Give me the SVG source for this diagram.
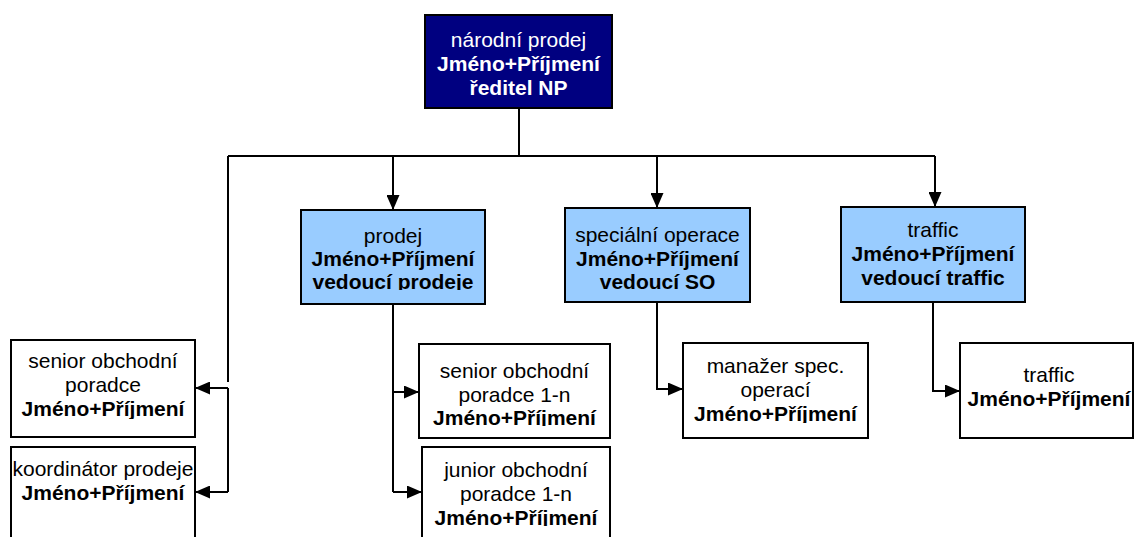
<svg xmlns="http://www.w3.org/2000/svg" width="1134" height="537" viewBox="0 0 1134 537">
<defs>
<style>
text{font-family:"Liberation Sans",Arial,sans-serif;font-size:21px;text-anchor:middle;fill:#000}
.b{font-weight:bold}
.w{fill:#fff}
.box{fill:#fff;stroke:#000;stroke-width:2}
.blue{fill:#99ccff;stroke:#000;stroke-width:2}
.top{fill:#000080;stroke:#000;stroke-width:2}
.c{fill:none;stroke:#000;stroke-width:2}
</style>
<marker id="ah" markerUnits="userSpaceOnUse" markerWidth="15" markerHeight="13" refX="15" refY="6.5" orient="auto">
<path d="M0,0 L15,6.5 L0,13 z" fill="#000"/>
</marker>
<clipPath id="cp1"><rect x="300" y="209" width="186" height="81"/></clipPath>
<clipPath id="cp2"><rect x="10" y="339" width="186" height="80"/></clipPath>
<clipPath id="cp3"><rect x="418" y="343" width="193" height="83"/></clipPath>
<clipPath id="cp4"><rect x="421" y="446" width="190" height="80"/></clipPath>
<clipPath id="cp5"><rect x="682" y="342" width="187" height="81"/></clipPath>
</defs>

<g id="connectors">
<path class="c" d="M519,108 V156 M228,156 H935"/>
<path class="c" d="M228,156 V382"/>
<path class="c" d="M228,388 V492"/>
<path class="c" d="M228,388 H195" marker-end="url(#ah)"/>
<path class="c" d="M228,492 H195" marker-end="url(#ah)"/>
<path class="c" d="M393,156 V210" marker-end="url(#ah)"/>
<path class="c" d="M657,156 V208" marker-end="url(#ah)"/>
<path class="c" d="M935,156 V207" marker-end="url(#ah)"/>
<path class="c" d="M393,304 V492"/>
<path class="c" d="M393,392 H419" marker-end="url(#ah)"/>
<path class="c" d="M393,492 H422" marker-end="url(#ah)"/>
<path class="c" d="M657,302 V389 H683" marker-end="url(#ah)"/>
<path class="c" d="M933,302 V391 H960" marker-end="url(#ah)"/>
</g>

<g id="n-narodni">
<rect class="top" x="425" y="15" width="187" height="93"/>
<text class="w" x="518.5" y="47">národní prodej</text>
<text class="w b" x="518.5" y="71">Jméno+Příjmení</text>
<text class="w b" x="518.5" y="95">ředitel NP</text>
</g>

<g id="n-prodej">
<rect class="blue" x="301" y="210" width="184" height="94"/>
<g clip-path="url(#cp1)">
<text x="393" y="243">prodej</text>
<text class="b" x="393" y="266">Jméno+Příjmení</text>
<text class="b" x="393" y="289">vedoucí prodeje</text>
</g>
</g>

<g id="n-spec">
<rect class="blue" x="565" y="208" width="185" height="94"/>
<text x="657.5" y="242">speciální operace</text>
<text class="b" x="657.5" y="265.5">Jméno+Příjmení</text>
<text class="b" x="657.5" y="289">vedoucí SO</text>
</g>

<g id="n-traffic">
<rect class="blue" x="841" y="207" width="184" height="95"/>
<text x="933" y="237">traffic</text>
<text class="b" x="933" y="261">Jméno+Příjmení</text>
<text class="b" x="933" y="285">vedoucí traffic</text>
</g>

<g id="n-senior">
<rect class="box" x="11" y="340" width="184" height="97"/>
<g clip-path="url(#cp2)">
<text x="103" y="368">senior obchodní</text>
<text x="103" y="392">poradce</text>
<text class="b" x="103" y="416">Jméno+Příjmení</text>
</g>
</g>

<g id="n-koordinator">
<rect class="box" x="11" y="447" width="184" height="100"/>
<text x="103" y="476">koordinátor prodeje</text>
<text class="b" x="103" y="500">Jméno+Příjmení</text>
</g>

<g id="n-senior1n">
<rect class="box" x="419" y="344" width="191" height="94"/>
<g clip-path="url(#cp3)">
<text x="514.5" y="378">senior obchodní</text>
<text x="514.5" y="402">poradce 1-n</text>
<text class="b" x="514.5" y="425">Jméno+Příjmení</text>
</g>
</g>

<g id="n-junior">
<rect class="box" x="422" y="447" width="188" height="100"/>
<g clip-path="url(#cp4)">
<text x="516" y="477">junior obchodní</text>
<text x="516" y="501">poradce 1-n</text>
<text class="b" x="516" y="525">Jméno+Příjmení</text>
</g>
</g>

<g id="n-manazer">
<rect class="box" x="683" y="343" width="185" height="95"/>
<g clip-path="url(#cp5)">
<text x="775.5" y="373">manažer spec.</text>
<text x="775.5" y="397">operací</text>
<text class="b" x="775.5" y="421">Jméno+Příjmení</text>
</g>
</g>

<g id="n-traffic2">
<rect class="box" x="960" y="343" width="173" height="95"/>
<text x="1049" y="382">traffic</text>
<text class="b" x="1049" y="406">Jméno+Příjmení</text>
</g>
</svg>
